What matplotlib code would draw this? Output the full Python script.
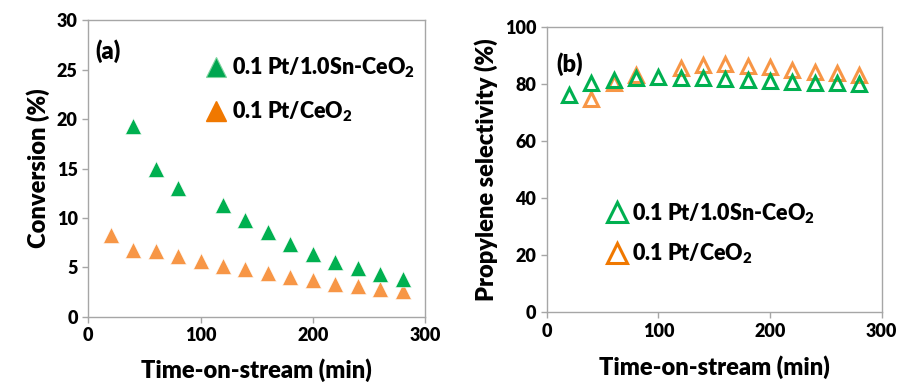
import matplotlib
matplotlib.use("Agg")
import matplotlib.pyplot as plt
from matplotlib.lines import Line2D

plt.rcParams['font.family'] = ['Lato', 'DejaVu Sans']
plt.rcParams['font.weight'] = 'heavy'
plt.rcParams['mathtext.fontset'] = 'custom'
plt.rcParams['mathtext.bf'] = 'Lato:heavy'
plt.rcParams['mathtext.rm'] = 'Lato:heavy'

# (a) conversion
t_sn = [40, 60, 80, 120, 140, 160, 180, 200, 220, 240, 260, 280]
conv_sn = [19.3, 14.9, 13.0, 11.3, 9.8, 8.6, 7.4, 6.4, 5.6, 4.9, 4.3, 3.85]
t_ce = [20, 40, 60, 80, 100, 120, 140, 160, 180, 200, 220, 240, 260, 280]
conv_ce = [8.25, 6.8, 6.7, 6.2, 5.7, 5.2, 4.85, 4.4, 4.05, 3.7, 3.35, 3.1, 2.85, 2.65]

# (b) propylene selectivity
t_sel_sn = [20, 40, 60, 80, 100, 120, 140, 160, 180, 200, 220, 240, 260, 280]
sel_sn = [76.1, 80.2, 81.4, 81.9, 82.3, 82.2, 82.1, 81.7, 81.3, 81.1, 80.7, 80.4, 80.3, 79.9]
t_sel_ce = [40, 60, 80, 120, 140, 160, 180, 200, 220, 240, 260, 280]
sel_ce = [74.7, 80.4, 83.1, 85.4, 86.6, 86.8, 86.2, 85.8, 84.8, 84.2, 83.7, 83.1]

labels = ['0.1 Pt/1.0Sn-CeO$_\\mathbf{2}$', '0.1 Pt/CeO$_\\mathbf{2}$']

green = '#00B050'
orange = '#F79646'
spine = '#A6A6A6'
W = 'heavy'

fig = plt.figure(figsize=(8.97, 3.82), dpi=100)
ax1 = fig.add_axes([0.0984, 0.1702, 0.3754, 0.7774])
ax2 = fig.add_axes([0.6095, 0.1825, 0.3735, 0.7476])

ax1.plot(t_ce, conv_ce, '^', color=orange, ms=11.5, mec='white', mew=0.4, ls='none')
ax1.plot(t_sn, conv_sn, '^', color=green, ms=11.5, mec='white', mew=0.4, ls='none')
ax1.set_xlim(0, 300)
ax1.set_ylim(0, 30)
ax1.set_xticks([0, 100, 200, 300])
ax1.set_yticks(range(0, 31, 5))
ax1.set_xlabel('Time-on-stream (min)', fontsize=17, fontweight=W, labelpad=10)
ax1.set_ylabel('Conversion (%)', fontsize=17, fontweight=W, labelpad=5)
ax1.text(0.02, 0.935, '(a)', transform=ax1.transAxes, fontsize=17, fontweight=W, va='top')
h1 = [Line2D([], [], marker='^', ls='none', color='#00A650', mec='#7FD49F', mew=0.8, ms=15),
      Line2D([], [], marker='^', ls='none', color='#F07800', ms=15)]
ax1.legend(h1, labels, loc='upper left', bbox_to_anchor=(0.32, 0.91), frameon=False,
           prop={'size': 15.5, 'weight': W}, handletextpad=0.15, labelspacing=0.9,
           handlelength=1.1, borderaxespad=0)

ax2.plot(t_sel_ce, sel_ce, '^', color='none', mec=orange, ms=9.5, mew=2.2, ls='none')
ax2.plot(t_sel_sn, sel_sn, '^', color='none', mec=green, ms=9.5, mew=2.2, ls='none')
ax2.set_xlim(0, 300)
ax2.set_ylim(0, 100)
ax2.set_xticks([0, 100, 200, 300])
ax2.set_yticks(range(0, 101, 20))
ax2.set_xlabel('Time-on-stream (min)', fontsize=17, fontweight=W, labelpad=11)
ax2.set_ylabel('Propylene selectivity (%)', fontsize=17, fontweight=W, labelpad=5)
ax2.text(0.03, 0.91, '(b)', transform=ax2.transAxes, fontsize=17, fontweight=W, va='top')
h2 = [Line2D([], [], marker='^', ls='none', color='none', mec=green, mew=2.2, ms=15),
      Line2D([], [], marker='^', ls='none', color='none', mec='#F07800', mew=2.2, ms=15)]
ax2.legend(h2, labels, loc='upper left', bbox_to_anchor=(0.15, 0.42), frameon=False,
           prop={'size': 15.5, 'weight': W}, handletextpad=0.15, labelspacing=0.75,
           handlelength=1.1, borderaxespad=0)

for ax in (ax1, ax2):
    for s in ax.spines.values():
        s.set_color(spine)
        s.set_linewidth(1.0)
    ax.tick_params(axis='both', colors=spine, labelcolor='black', labelsize=13,
                   direction='out', length=4, width=1)
    for lab in ax.get_xticklabels() + ax.get_yticklabels():
        lab.set_fontweight(W)

fig.savefig('out.png', dpi=100)
